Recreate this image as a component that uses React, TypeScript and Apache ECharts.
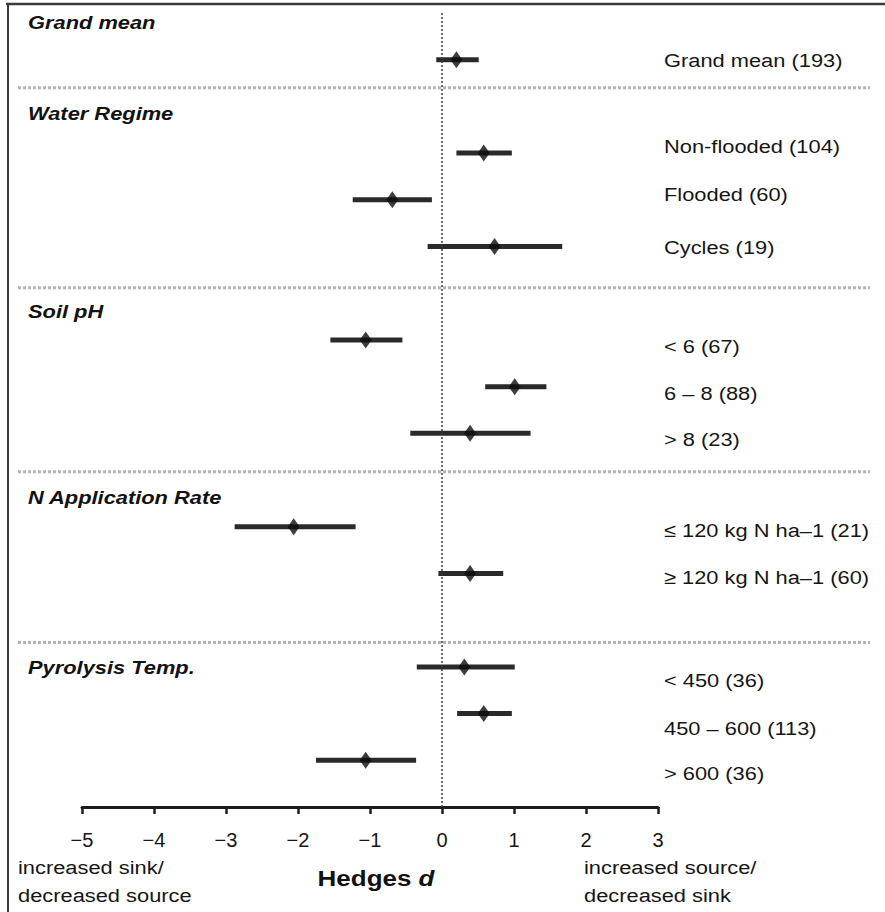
import React, { useEffect, useRef } from "react";
import * as echarts from "echarts";

// ---- data ----
const groupTitles = ["Grand mean", "Water Regime", "Soil pH", "N Application Rate", "Pyrolysis Temp."];
const rowLabels = [
  "Grand mean (193)",
  "Non-flooded (104)",
  "Flooded (60)",
  "Cycles (19)",
  "< 6 (67)",
  "6 – 8 (88)",
  "> 8 (23)",
  "≤ 120 kg N ha–1 (21)",
  "≥ 120 kg N ha–1 (60)",
  "< 450 (36)",
  "450 – 600 (113)",
  "> 600 (36)",
];
const means = [0.2, 0.58, -0.69, 0.73, -1.06, 1.01, 0.39, -2.06, 0.39, 0.31, 0.58, -1.06];
const lower = [-0.08, 0.2, -1.24, -0.2, -1.55, 0.6, -0.44, -2.88, -0.05, -0.35, 0.21, -1.75];
const upper = [0.51, 0.97, -0.14, 1.67, -0.55, 1.45, 1.23, -1.2, 0.85, 1.01, 0.97, -0.36];
const xTicks = [-5, -4, -3, -2, -1, 0, 1, 2, 3];

// ---- layout (row slots on the vertical scale) ----
const rowSlots = [0, 2, 3, 4, 6, 7, 8, 10, 11, 13, 14, 15];
const labelOffsets = [0, -7, -6, 1, 6, 6, 6, 3, 4, 13, 14, 13];
const separatorSlots = [0.6, 4.88, 8.82, 12.48];
const headerY = [22, 113, 311, 497, 667];

const FONT = "'Liberation Sans', Arial, Helvetica, sans-serif";
const SX = 1.15;

export default function App() {
  const ref = useRef<HTMLDivElement>(null);

  useEffect(() => {
    if (!ref.current) return;
    const chart = echarts.init(ref.current, null, { renderer: "svg" });

    const fmt = (v: number) => (v < 0 ? "−" + Math.abs(v) : String(v));

    const option: any = {
      animation: false,
      backgroundColor: "#ffffff",
      grid: { left: 82, right: 227, top: 13, bottom: 105 },
      xAxis: {
        type: "value",
        min: xTicks[0],
        max: xTicks[xTicks.length - 1],
        interval: 1,
        axisLine: { show: true, onZero: false, lineStyle: { color: "#1c1c1c", width: 3 } },
        axisTick: { show: true, length: 7, lineStyle: { color: "#1c1c1c", width: 2.5 } },
        axisLabel: { formatter: fmt, fontSize: 20, color: "#151515", margin: 23, fontFamily: FONT },
        splitLine: { show: false },
      },
      yAxis: { type: "value", inverse: true, min: -1, max: 16, show: false },
      series: [
        {
          type: "custom",
          name: "separators",
          z: 1,
          silent: true,
          clip: false,
          data: separatorSlots.map((s) => [xTicks[0], s]),
          encode: { x: 0, y: 1 },
          renderItem: (params: any, api: any) => {
            const p = api.coord([api.value(0), api.value(1)]);
            return {
              type: "line",
              shape: { x1: 18, y1: p[1], x2: 870, y2: p[1] },
              style: { stroke: "#b3b3b3", lineWidth: 3, lineDash: [3, 2] },
            };
          },
          markLine: {
            symbol: "none",
            silent: true,
            label: { show: false },
            lineStyle: { type: [2, 2], color: "#3c3c3c", width: 1.5 },
            data: [{ xAxis: 0 }],
          },
        },
        {
          type: "custom",
          name: "CI",
          z: 2,
          silent: true,
          data: lower.map((l, i) => [l, upper[i], rowSlots[i]]),
          encode: { x: [0, 1], y: 2 },
          renderItem: (params: any, api: any) => {
            const y = api.value(2);
            const p1 = api.coord([api.value(0), y]);
            const p2 = api.coord([api.value(1), y]);
            return {
              type: "line",
              shape: { x1: p1[0], y1: p1[1], x2: p2[0], y2: p2[1] },
              style: { stroke: "#2a2a2a", lineWidth: 5, lineCap: "butt" },
            };
          },
        },
        {
          type: "scatter",
          name: "mean",
          z: 3,
          symbol: "diamond",
          symbolSize: [12, 17],
          itemStyle: { color: "#0d0d0d" },
          data: means.map((m, i) => [m, rowSlots[i]]),
        },
        {
          type: "custom",
          name: "labels",
          z: 3,
          silent: true,
          clip: false,
          data: rowLabels.map((l, i) => [xTicks[xTicks.length - 1], rowSlots[i]]),
          encode: { x: 0, y: 1 },
          renderItem: (params: any, api: any) => {
            const i = params.dataIndex;
            const p = api.coord([api.value(0), api.value(1)]);
            return {
              type: "text",
              x: p[0] + 6,
              y: p[1] + labelOffsets[i],
              scaleX: SX,
              style: {
                text: rowLabels[i],
                fontSize: 19,
                fontFamily: FONT,
                fill: "#151515",
                verticalAlign: "middle",
                align: "left",
              },
            };
          },
        },
      ],
      graphic: [
        { type: "line", shape: { x1: 6, y1: 4, x2: 885, y2: 4 }, style: { stroke: "#3a3a3a", lineWidth: 2.5 } },
        { type: "line", shape: { x1: 8, y1: 3, x2: 8, y2: 912 }, style: { stroke: "#3a3a3a", lineWidth: 2 } },
        ...groupTitles.map((t, i) => ({
          type: "text",
          x: 28,
          y: headerY[i],
          scaleX: SX,
          style: {
            text: t,
            fontSize: 19,
            fontWeight: "bold",
            fontStyle: "italic",
            fontFamily: FONT,
            fill: "#111",
            verticalAlign: "middle",
            align: "left",
          },
        })),
        {
          type: "text",
          x: 18,
          y: 881,
          scaleX: SX,
          style: {
            text: "increased sink/\ndecreased source",
            fontSize: 19,
            lineHeight: 28,
            fontFamily: FONT,
            fill: "#151515",
            verticalAlign: "middle",
            align: "left",
          },
        },
        {
          type: "text",
          x: 584,
          y: 881,
          scaleX: SX,
          style: {
            text: "increased source/\ndecreased sink",
            fontSize: 19,
            lineHeight: 28,
            fontFamily: FONT,
            fill: "#151515",
            verticalAlign: "middle",
            align: "left",
          },
        },
        {
          type: "text",
          x: 376,
          y: 878,
          scaleX: 1.18,
          style: {
            text: "{a|Hedges }{b|d}",
            align: "center",
            verticalAlign: "middle",
            rich: {
              a: { fontSize: 22, fontWeight: "bold", fontFamily: FONT, fill: "#111" },
              b: { fontSize: 22, fontWeight: "bold", fontStyle: "italic", fontFamily: FONT, fill: "#111" },
            },
          },
        },
      ],
    };

    chart.setOption(option);
    return () => chart.dispose();
  }, []);

  return (
    <div
      ref={ref}
      style={{ position: "fixed", left: 0, top: 0, width: 885, height: 912, background: "#fff" }}
    />
  );
}
